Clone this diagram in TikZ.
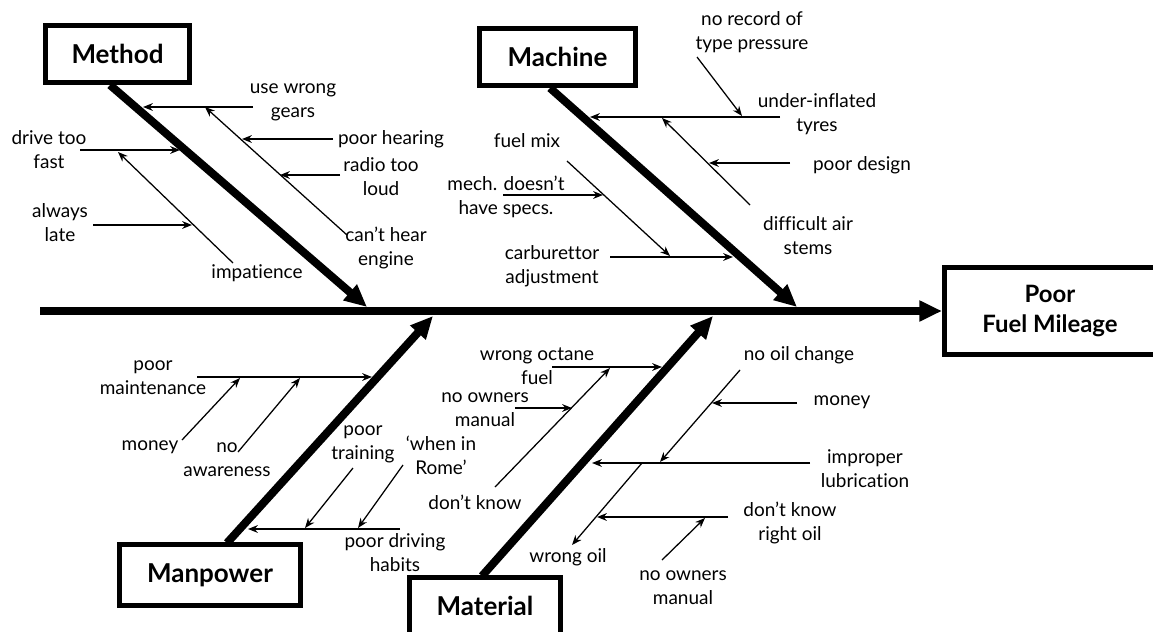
\documentclass[tikz,border=0pt]{standalone}
\usepackage{fontspec}
\setmainfont{Lato}[Ligatures={TeX,NoCommon}]
\usetikzlibrary{arrows.meta}

\begin{document}
\begin{tikzpicture}[x=0.025cm, y=-0.025cm,
  every node/.style={font=\fontsize{13.5}{17}\selectfont},
  cause/.style={align=center, inner sep=0pt},
  catbox/.style={draw, line width=3.6pt, fill=white, inner sep=0pt,
                 font=\fontsize{18.5}{21}\selectfont\bfseries},
  bone/.style={line width=5.7pt, -{Triangle[length=16pt, width=14pt]}},
  twig/.style={line width=0.9pt, -{Stealth[length=7pt, width=5.5pt]}},
]
\useasboundingbox (0,0) rectangle (1153,632);
\clip (0,0) rectangle (1153,632);

%% ── Category boxes and effect ──────────────────────────────────────────────
\node[catbox, minimum width=3.6cm,   minimum height=1.425cm] (meth) at (117.5, 54) {Method};
\node[catbox, minimum width=3.9cm,   minimum height=1.425cm] (mach) at (557.5, 57) {Machine};
\node[catbox, minimum width=4.525cm, minimum height=1.525cm] (manp) at (210, 575) {Manpower};
\node[catbox, minimum width=3.775cm, minimum height=1.425cm] (matl) at (485, 606) {Material};
\node[catbox, minimum width=5.275cm, minimum height=2.175cm, align=center,
      font=\fontsize{17}{22}\selectfont\bfseries] (effect) at (1050, 311) {Poor\\Fuel Mileage};

%% ── Spine and bones ────────────────────────────────────────────────────────
\coordinate (tail) at (40, 311);
\coordinate (methS) at (110, 85);   \coordinate (methT) at (367, 307);
\coordinate (machS) at (550, 88);   \coordinate (machT) at (797, 307);
\coordinate (manpS) at (227, 543);  \coordinate (manpT) at (433, 316);
\coordinate (matlS) at (482, 576);  \coordinate (matlT) at (713, 316);

\draw[bone] (tail) -- (effect.west);
\draw[bone] (methS) -- (methT);
\draw[bone] (machS) -- (machT);
\draw[bone] (manpS) -- (manpT);
\draw[bone] (matlS) -- (matlT);

%% ── Method causes ──────────────────────────────────────────────────────────
\node[cause] (gears)   at (293, 102) {use wrong\\gears};
\node[cause] (hearing) at (391, 139) {poor hearing};
\node[cause] (radio)   at (381, 177) {radio too\\loud};
\node[cause] (hear)    at (386, 248) {can’t hear\\engine};
\node[cause] (fast)    at (49, 150)  {drive too\\fast};
\node[cause] (late)    at (60, 223)  {always\\late};
\node[cause] (impat)   at (257, 273) {impatience};

\coordinate (gears0) at (253, 107);   \coordinate (gears1) at (143, 107);
\coordinate (hear0) at (347, 235);    \coordinate (hear1) at (205, 107);
\coordinate (hearing0) at (333, 139); \coordinate (hearing1) at (242, 139);
\coordinate (radio0) at (340, 175);   \coordinate (radio1) at (280, 175);
\coordinate (fast0) at (80, 150);     \coordinate (fast1) at (180, 150);
\coordinate (impat0) at (233, 263);   \coordinate (impat1) at (118, 152);
\coordinate (late0) at (93, 225);     \coordinate (late1) at (192, 225);

\draw[twig] (gears0) -- (gears1);
\draw[twig] (hear0) -- (hear1);
\draw[twig] (hearing0) -- (hearing1);
\draw[twig] (radio0) -- (radio1);
\draw[twig] (fast0) -- (fast1);
\draw[twig] (impat0) -- (impat1);
\draw[twig] (late0) -- (late1);

%% ── Machine causes ─────────────────────────────────────────────────────────
\node[cause] (record) at (752, 32)  {no record of\\type pressure};
\node[cause] (tyres)  at (817, 114) {under-inflated\\tyres};
\node[cause] (design) at (862, 165) {poor design};
\node[cause] (air)    at (808, 236) {difficult air\\stems};
\node[cause] (mix)    at (527, 141) {fuel mix};
\node[cause] (specs)  at (506, 197) {mech. doesn’t\\have specs.};
\node[cause] (carb)   at (552, 266) {carburettor\\adjustment};

\coordinate (tyres0) at (780, 117);  \coordinate (tyres1) at (590, 117);
\coordinate (record0) at (697, 57);  \coordinate (record1) at (742, 116);
\coordinate (air0) at (750, 205);    \coordinate (air1) at (662, 118);
\coordinate (design0) at (790, 163); \coordinate (design1) at (709, 163);
\coordinate (mix0) at (567, 161);    \coordinate (mix1) at (670, 256);
\coordinate (specs0) at (503, 195);  \coordinate (specs1) at (603, 195);
\coordinate (carb0) at (610, 257);   \coordinate (carb1) at (733, 257);

\draw[twig] (tyres0) -- (tyres1);
\draw[twig] (record0) -- (record1);
\draw[twig] (air0) -- (air1);
\draw[twig] (design0) -- (design1);
\draw[twig] (mix0) -- (mix1);
\draw[twig] (specs0) -- (specs1);
\draw[twig] (carb0) -- (carb1);

%% ── Manpower causes ────────────────────────────────────────────────────────
\node[cause] (maint)  at (153, 378) {poor\\maintenance};
\node[cause] (money1) at (150, 447) {money};
\node[cause] (aware)  at (227, 460) {no\\awareness};
\node[cause] (habits) at (395, 553) {poor driving\\habits};
\node[cause] (train)  at (363, 444) {poor\\training};
\node[cause] (rome)   at (441, 455) {‘when in\\Rome’};

\coordinate (maint0) at (197, 377);  \coordinate (maint1) at (372, 377);
\coordinate (money10) at (182, 440); \coordinate (money11) at (240, 378);
\coordinate (aware0) at (238, 452);  \coordinate (aware1) at (300, 378);
\coordinate (habits0) at (400, 529); \coordinate (habits1) at (248, 529);
\coordinate (train0) at (353, 468);  \coordinate (train1) at (305, 528);
\coordinate (rome0) at (403, 465);   \coordinate (rome1) at (358, 528);

\draw[twig] (maint0) -- (maint1);
\draw[twig] (money10) -- (money11);
\draw[twig] (aware0) -- (aware1);
\draw[twig] (habits0) -- (habits1);
\draw[twig] (train0) -- (train1);
\draw[twig] (rome0) -- (rome1);

%% ── Material causes ────────────────────────────────────────────────────────
\node[cause] (octane)  at (537, 366) {wrong octane\\fuel};
\node[cause] (dknow)   at (475, 502) {don’t know};
\node[cause] (owners1) at (485, 410) {no owners\\manual};
\node[cause] (lubric)  at (865, 469) {improper\\lubrication};
\node[cause] (change)  at (799, 355) {no oil change};
\node[cause] (money2)  at (842, 402) {money};
\node[cause] (wrongoil) at (568, 557) {wrong oil};
\node[cause] (rightoil) at (790, 523) {don’t know\\right oil};
\node[cause] (owners2) at (683, 588) {no owners\\manual};

\coordinate (octane0) at (552, 367);  \coordinate (octane1) at (662, 367);
\coordinate (dknow0) at (495, 487);   \coordinate (dknow1) at (610, 368);
\coordinate (owners10) at (515, 408); \coordinate (owners11) at (572, 408);
\coordinate (lubric0) at (810, 463);  \coordinate (lubric1) at (592, 463);
\coordinate (change0) at (740, 370);  \coordinate (change1) at (660, 462);
\coordinate (money20) at (797, 403);  \coordinate (money21) at (712, 403);
\coordinate (wrongoil0) at (642, 463); \coordinate (wrongoil1) at (572, 545);
\coordinate (rightoil0) at (728, 517); \coordinate (rightoil1) at (597, 517);
\coordinate (owners20) at (662, 560); \coordinate (owners21) at (705, 518);

\draw[twig] (octane0) -- (octane1);
\draw[twig] (dknow0) -- (dknow1);
\draw[twig] (owners10) -- (owners11);
\draw[twig] (lubric0) -- (lubric1);
\draw[twig] (change0) -- (change1);
\draw[twig] (money20) -- (money21);
\draw[twig] (wrongoil0) -- (wrongoil1);
\draw[twig] (rightoil0) -- (rightoil1);
\draw[twig] (owners20) -- (owners21);

\end{tikzpicture}
\end{document}
